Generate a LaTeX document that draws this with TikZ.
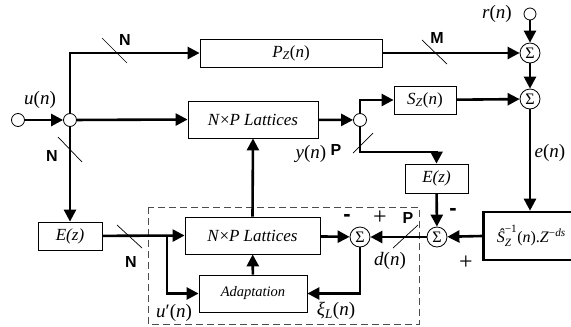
\documentclass[tikz,border=0pt]{standalone}
\usepackage{fontspec}
\usepackage{amsmath}
\setmainfont{Liberation Serif}
\setsansfont{Liberation Sans}
\usetikzlibrary{arrows.meta, calc}

\newcommand\ofn[1]{\textit{#1}(\textit{n})}

\begin{document}
\begin{tikzpicture}[x=1pt, y=-1pt,
    blk/.style={draw, line width=0.8pt, inner sep=1pt, align=center, font=\fontsize{17}{19}\selectfont},
    sumn/.style={circle, draw, line width=0.8pt, inner sep=0pt, minimum size=20pt, fill=white, font=\fontsize{16}{16}\selectfont},
    junc/.style={circle, draw, line width=0.8pt, inner sep=0pt, minimum size=13pt, fill=white},
    sig/.style={line width=2.6pt, -{Triangle[length=12pt, width=12pt]}},
    tick/.style={line width=0.7pt},
    bus/.style={font=\sffamily\bfseries\fontsize{16}{16}\selectfont},
    sgn/.style={font=\sffamily\bfseries\fontsize{22}{22}\selectfont},
    lbl/.style={font=\fontsize{19}{19}\selectfont}
  ]
  \useasboundingbox (0,0) rectangle (571,327);
  \clip (0,0) rectangle (571,327);

  % blocks
  \node[junc] (uin) at (18,120) {};
  \node[junc] (j1) at (70,120) {};
  \node[blk, minimum width=182pt, minimum height=28pt] (pz) at (291,53) {\textit{P}\textsubscript{\textit{Z}}(\textit{n})};
  \node[junc, minimum size=12pt] (rin) at (530,14) {};
  \node[sumn] (s1) at (530,53) {Σ};
  \node[sumn] (s2) at (530,99) {Σ};
  \node[blk, minimum width=130pt, minimum height=37pt] (lat1) at (253,119.5) {\textit{N}×\textit{P Lattices}};
  \node[junc] (j2) at (360,120) {};
  \node[blk, minimum width=62pt, minimum height=28pt] (sz) at (425,100) {\textit{S}\textsubscript{\textit{Z}}(\textit{n})};
  \node[blk, minimum width=63pt, minimum height=29pt] (ez2) at (436.5,178.5) {\textit{E(z)}};
  \node[sumn] (s4) at (437,237) {Σ};
  \node[blk, line width=2.6pt, minimum width=96pt, minimum height=48pt, anchor=west, font=\fontsize{16}{18}\selectfont] (sinv) at (482,236)
       {$\textit{Ŝ}^{\text{−1}}_{\textit{Z}}$(\textit{n}).\textit{Z}\textsuperscript{−\textit{ds}}};
  \node[sumn] (s3) at (360,237) {Σ};
  \node[blk, minimum width=135pt, minimum height=37pt] (lat2) at (252.5,235.5) {\textit{N}×\textit{P Lattices}};
  \node[blk, minimum width=108pt, minimum height=37pt, font=\fontsize{14.5}{16}\selectfont] (adapt) at (253,293.5) {\textit{Adaptation}};
  \node[blk, minimum width=64pt, minimum height=28pt] (ez1) at (70,236) {\textit{E(z)}};
  \coordinate (br) at (167,236);

  % adaptive filter frame
  \draw[dash pattern=on 7pt off 4pt, line width=0.8pt, black!70] (148,207) rectangle (419,324);

  % signal paths
  \draw[sig] (uin) -- (j1);
  \draw[sig] (j1.north) |- (pz.west);
  \draw[sig] (j1) -- (lat1.west);
  \draw[sig] (j1.south) -- (ez1.north);
  \draw[sig] (pz) -- (s1);
  \draw[sig] (rin) -- (s1);
  \draw[sig] (s1) -- (s2);
  \draw[sig] (lat1) -- (j2);
  \draw[sig] (j2.north) |- (sz.west);
  \draw[sig] (sz) -- (s2);
  \draw[sig] (j2.south) -- ++(0,25) -| (ez2.north);
  \draw[sig] (ez2) -- (s4);
  \draw[sig] (s2.south) -- (s2.south |- sinv.north);
  \draw[sig] (sinv.west) -- (s4);
  \draw[sig] (s4) -- (s3);
  \draw[sig] (lat2) -- (s3);
  \draw[sig] (lat2.north) -- (lat1.south);
  \draw[sig] (adapt) -- (lat2);
  \draw[sig] (s3.south) |- (adapt.east);
  \draw[sig] (ez1) -- (lat2.west);
  \draw[sig] (br) |- (adapt.west);

  % bus width marks
  \draw[tick] (102,38) -- (127,63);
  \draw[tick] (422,40) -- (447,64);
  \draw[tick] (58,137) -- (82,162);
  \draw[tick] (353,153) -- (373,133);
  \draw[tick] (117,225) -- (142,248);
  \draw[tick] (393,248) -- (418,225);
  \node[bus] (nA) at (125,40) {N};
  \node[bus] (nM) at (437,38) {M};
  \node[bus] (nB) at (52,156) {N};
  \node[bus] (nP) at (336,150) {P};
  \node[bus] (nC) at (131,262) {N};
  \node[bus] (nQ) at (408,218) {P};

  % signal names
  \node[lbl] at (40,100) {\ofn{u}};
  \node[lbl] at (497,14) {\ofn{r}};
  \node[lbl] at (311,154) {\ofn{y}};
  \node[lbl] at (550,153) {\ofn{e}};
  \node[lbl] at (390,261) {\ofn{d}};
  \node[lbl] at (174,313) {\textit{u}′(\textit{n})};
  \node[lbl] at (336,311) {\textit{ξ}\textsubscript{\textit{L}}(\textit{n})};
  \node[sgn] at (347,218) {-};
  \node[lbl, font=\fontsize{24}{24}\selectfont] at (380,218) {+};
  \node[sgn] at (453,212) {-};
  \node[lbl, font=\fontsize{24}{24}\selectfont] at (466,263) {+};
\end{tikzpicture}
\end{document}
